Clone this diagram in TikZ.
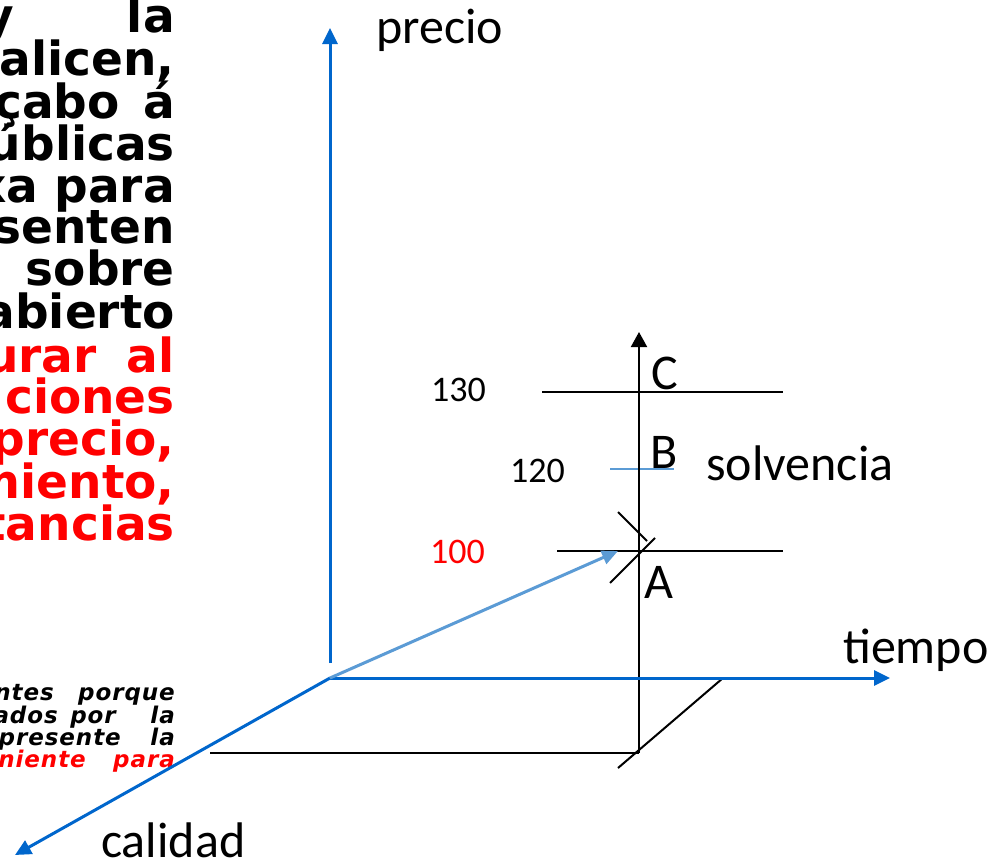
\documentclass[tikz,border=0pt]{standalone}
\usepackage{fontspec}
\setmainfont{Carlito}
\newfontfamily\slidefont{DejaVu Sans}
\newfontfamily\notefont{DejaVu Sans}[LetterSpace=4]
\usetikzlibrary{arrows.meta}
\definecolor{axisblue}{RGB}{0,102,204}
\definecolor{lightarrow}{RGB}{91,155,213}
\definecolor{slidered}{RGB}{255,0,0}
\tikzset{
  axisline/.style={draw=axisblue, line width=3pt, -{Triangle[length=16pt,width=15pt]}},
  blackline/.style={draw=black, line width=2pt},
  lbl/.style={font=\fontsize{50}{50}\selectfont, inner sep=0pt, anchor=base west},
  numlbl/.style={font=\fontsize{36}{36}\selectfont, inner sep=0pt, anchor=base west},
  paratext/.style={font=\slidefont\bfseries\fontsize{47}{47}\selectfont, inner sep=0pt, anchor=base east},
  notetext/.style={font=\notefont\bfseries\itshape\fontsize{23}{23}\selectfont, inner sep=0pt, anchor=base east},
}
\begin{document}
\begin{tikzpicture}[x=1pt,y=-1pt]
\useasboundingbox (0,0) rectangle (994,862);
\clip (0,0) rectangle (994,862);
\fill[white] (0,0) rectangle (994,862);

% ---------- left paragraph (clipped) ----------
\node[paratext] (p1a) at (14,32) {y};
\node[paratext] (p1b) at (175,32) {la};
\node[paratext] (p2) at (175,75) {alicen,};
\node[paratext] (p3a) at (120,118) {çabo};
\node[paratext] (p3b) at (175,118) {á};
\node[paratext] (p4) at (175,160) {úblicas};
\node[paratext] (p5) at (175,202) {xa para};
\node[paratext] (p6) at (175,243) {senten};
\node[paratext] (p7) at (175,285) {sobre};
\node[paratext] (p8) at (175,328) {abierto};
\node[paratext, text=slidered] (p9a) at (97,372) {urar};
\node[paratext, text=slidered] (p9b) at (175,372) {al};
\node[paratext, text=slidered] (p10) at (175,413) {ciones};
\node[paratext, text=slidered] (p11) at (175,455) {precio,};
\node[paratext, text=slidered] (p12) at (175,498) {miento,};
\node[paratext, text=slidered] (p13) at (175,540) {tancias};

% ---------- bottom italic note (clipped) ----------
\node[notetext] (n1a) at (54,700) {ntes};
\node[notetext] (n1b) at (175,700) {porque};
\node[notetext] (n2a) at (58,723) {ados};
\node[notetext] (n2b) at (116,723) {por};
\node[notetext] (n2c) at (175,723) {la};
\node[notetext] (n3a) at (121,745) {presente};
\node[notetext] (n3b) at (175,745) {la};
\node[notetext, text=slidered] (n4a) at (86,767) {niente};
\node[notetext, text=slidered] (n4b) at (175,767) {para};

% ---------- coordinates ----------
\coordinate (O) at (330,678);
\coordinate (Pbot) at (330,663);
\coordinate (Ptop) at (330,28);
\coordinate (Tend) at (890,678);
\coordinate (Qend) at (15,855);
\coordinate (Send) at (618,551);
\coordinate (Vbot) at (639,753);
\coordinate (Vtop) at (639,332);
\coordinate (Hl) at (210,753);
\coordinate (Dtop) at (723,678);
\coordinate (Dbot) at (618,768);
\coordinate (L130a) at (542,392);
\coordinate (L130b) at (783,392);
\coordinate (L100a) at (557,551);
\coordinate (L100b) at (783,551);
\coordinate (L120a) at (610,469);
\coordinate (L120b) at (674,469);
\coordinate (K1a) at (618,512);
\coordinate (K1b) at (647,541);
\coordinate (K2a) at (610,583);
\coordinate (K2b) at (655,538);

% ---------- black construction lines ----------
\draw[blackline] (Hl) -- (Vbot);
\draw[blackline] (Dtop) -- (Dbot);
\draw[blackline] (L130a) -- (L130b);
\draw[blackline] (L100a) -- (L100b);
\draw[draw=lightarrow, line width=1.2pt] (L120a) -- (L120b);
\draw[blackline] (K1a) -- (K1b);
\draw[blackline] (K2a) -- (K2b);
\draw[blackline, -{Triangle[length=15pt,width=16pt]}] (Vbot) -- (Vtop);

% ---------- blue axes ----------
\draw[axisline] (Pbot) -- (Ptop);
\draw[axisline] (O) -- (Tend);
\draw[axisline] (O) -- (Qend);
\draw[draw=lightarrow, line width=3pt, -{Triangle[length=16pt,width=14pt]}] (O) -- (Send);

% ---------- labels ----------
\node[lbl] (precio) at (376,43) {precio};
\node[lbl] (tiempo) at (843,663) {tiempo};
\node[lbl] (calidad) at (101,857) {calidad};
\node[lbl] (solvencia) at (706,480) {solvencia};
\node[lbl] (C) at (651,389) {C};
\node[lbl] (B) at (650,468) {B};
\node[lbl] (A) at (644,598) {A};
\node[numlbl] (n130) at (431,401) {130};
\node[numlbl] (n120) at (510,482) {120};
\node[numlbl, text=slidered] (n100) at (430,563) {100};
\end{tikzpicture}
\end{document}
